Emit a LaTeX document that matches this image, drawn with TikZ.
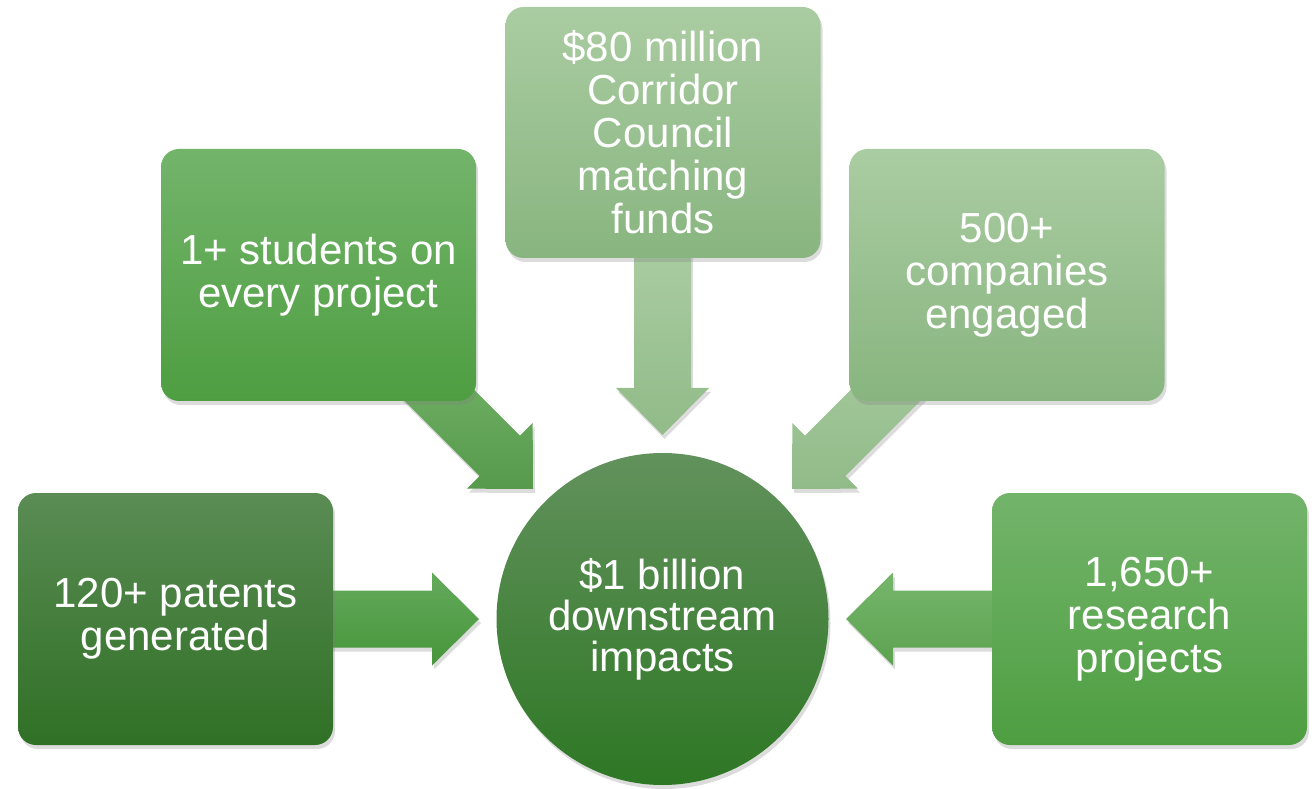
\documentclass[tikz,border=0pt]{standalone}
\usepackage{fontspec}
\setmainfont{Liberation Sans}
\usetikzlibrary{shadows}
\definecolor{darkT}{RGB}{90,140,84}
\definecolor{darkB}{RGB}{48,112,38}
\definecolor{midT}{RGB}{115,180,107}
\definecolor{midB}{RGB}{78,158,65}
\definecolor{lightT}{RGB}{170,204,162}
\definecolor{lightB}{RGB}{136,181,127}
\definecolor{arrMidT}{RGB}{118,182,108}
\definecolor{arrMidB}{RGB}{92,162,80}
\definecolor{arrPatT}{RGB}{100,170,92}
\definecolor{arrPatB}{RGB}{70,150,58}
\definecolor{arrLightT}{RGB}{170,204,162}
\definecolor{arrLightB}{RGB}{145,187,136}
\begin{document}
\begin{tikzpicture}[x=1pt,y=1pt,
  shade/.style={drop shadow={shadow xshift=2pt,shadow yshift=-4pt,opacity=0.28}},
  box/.style={shade,rounded corners=18pt,draw=none,minimum width=315pt,minimum height=252pt,
    text=white,align=center,inner sep=0pt,font=\fontsize{42}{43}\selectfont},
  darkbox/.style={box,top color=darkT,bottom color=darkB},
  midbox/.style={box,top color=midT,bottom color=midB},
  lightbox/.style={box,top color=lightT,bottom color=lightB},
  hub/.style={shade,circle,draw=none,minimum size=332pt,inner sep=0pt,text=white,align=center,
    font=\fontsize{42}{41}\selectfont,top color=darkT!95!white,bottom color=darkB!95!green},
  blockarrow/.style={shade,draw=none}
]
\useasboundingbox (0,0) rectangle (1314,788);

% block arrows (drawn first, so their shafts go under the boxes)
\path[blockarrow,top color=arrPatT,bottom color=arrPatB]
  (320,197.5) -- (432,197.5) -- (432,215.5) -- (479,169) -- (432,122.5) -- (432,140.5) -- (320,140.5) -- cycle;
\path[blockarrow,top color=arrMidT,bottom color=arrMidB]
  (1005,197.5) -- (893,197.5) -- (893,215.5) -- (846,169) -- (893,122.5) -- (893,140.5) -- (1005,140.5) -- cycle;
\path[blockarrow,top color=arrLightT,bottom color=arrLightB]
  (634,545) -- (634,400) -- (616,400) -- (662.5,353) -- (709,400) -- (691,400) -- (691,545) -- cycle;
\path[blockarrow,top color=arrMidT,bottom color=arrMidB!95!black]
  (413.15,459.15) -- (519.95,352.35) -- (532.65,365.11) -- (533,299) -- (466.89,299.35) -- (479.65,312.05) -- (372.85,418.85) -- cycle;
\path[blockarrow,top color=arrLightT,bottom color=arrLightB]
  (911.85,459.15) -- (805.05,352.35) -- (792.35,365.11) -- (792,299) -- (858.11,299.35) -- (845.35,312.05) -- (952.15,418.85) -- cycle;

% boxes
\node[darkbox]  (pat)  at (175.5,169)  {120+ patents\\generated};
\node[midbox]   (res)  at (1149.5,169) {1,650+\\research\\projects};
\node[midbox]   (stu)  at (318.5,513)  {1+ students on\\every project};
\node[lightbox] (com)  at (1007,513)   {500+\\companies\\engaged};
\node[lightbox,minimum height=251pt] (fund) at (663,655.5)
  {\$80 million\\Corridor\\Council\\matching\\funds};
\node[hub] (hub) at (662.5,169) {\$1 billion\\downstream\\impacts};
\end{tikzpicture}
\end{document}
